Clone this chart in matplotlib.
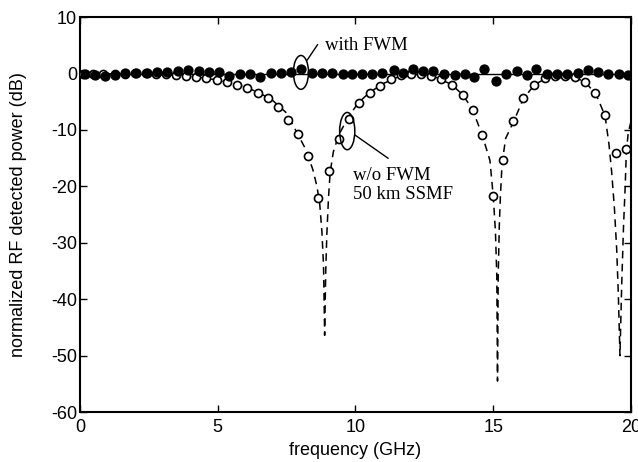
"""
RF power fading vs. frequency over 50 km SSMF, with and without FWM.
Filled dots: with FWM, open circles: w/o FWM, dashed: fading curve.
"""

import matplotlib
matplotlib.use('Agg')
import matplotlib.pyplot as plt
from matplotlib.patches import Ellipse

plt.rcParams['axes.unicode_minus'] = False


# ============ DATA ============
# with FWM (filled dots)
fwm_f = [0.17, 0.54, 0.91, 1.27, 1.63, 2.03, 2.42, 2.78, 3.17, 3.55, 3.93,
         4.32, 4.69, 5.06, 5.42, 5.81, 6.17, 6.53, 6.92, 7.29, 7.65, 8.01,
         8.41, 8.79, 9.15, 9.54, 9.88, 10.22, 10.61, 10.98, 11.40, 11.73,
         12.10, 12.46, 12.83, 13.23, 13.60, 13.97, 14.31, 14.67, 15.10,
         15.45, 15.85, 16.21, 16.57, 16.94, 17.30, 17.66, 18.09, 18.45,
         18.79, 19.18, 19.55, 19.88]
fwm_db = [-0.1, -0.27, -0.44, -0.27, 0.03, 0.15, 0.15, 0.32, 0.32, 0.5, 0.62,
          0.5, 0.32, 0.32, -0.44, -0.09, -0.09, -0.68, 0.15, 0.15, 0.32, 0.8,
          0.15, 0.15, 0.03, -0.09, -0.09, -0.09, -0.09, 0.15, 0.7, 0.15,
          0.85, 0.5, 0.5, -0.09, -0.27, -0.09, -0.56, 0.74, -1.27,
          -0.09, 0.5, -0.27, 0.74, -0.09, -0.09, -0.09, 0.15, 0.62,
          0.32, -0.09, -0.09, -0.27]

# w/o FWM (open circles)
nofwm_f = [0.12, 0.48, 0.85, 1.27, 1.63, 2.00, 2.40, 2.76, 3.12, 3.48, 3.85,
           4.21, 4.57, 4.96, 5.32, 5.71, 6.07, 6.45, 6.81, 7.17, 7.56, 7.90,
           8.29, 8.65, 9.05, 9.41, 9.77, 10.13, 10.53, 10.89, 11.29, 11.65,
           12.01, 12.38, 12.74, 13.12, 13.49, 13.89, 14.25, 14.61, 15.00,
           15.37, 15.73, 16.09, 16.48, 16.88, 17.24, 17.60, 17.97, 18.33,
           18.69, 19.06, 19.46, 19.82]
nofwm_db = [-0.1, -0.1, -0.1, -0.05, 0.0, 0.05, 0.05, 0.0, -0.1, -0.2, -0.45,
            -0.6, -0.85, -1.15, -1.45, -2.0, -2.6, -3.4, -4.4, -6.0, -8.2, -10.7,
            -14.6, -22.0, -17.2, -11.6, -8.0, -5.2, -3.5, -2.2, -1.0, -0.3,
            0.0, -0.15, -0.4, -1.0, -2.0, -3.8, -6.4, -10.9, -21.7,
            -15.4, -8.4, -4.4, -2.0, -0.8, -0.45, -0.45, -0.68, -1.5,
            -3.5, -7.4, -14.0, -13.3]

# fading curve (dashed)
curve_f = [0.0, 1.0, 2.0, 3.0, 3.5, 4.0, 4.5, 5.0, 5.5, 6.0, 6.5, 7.0, 7.5,
           7.9, 8.2, 8.45, 8.6, 8.7, 8.78, 8.84, 8.88, 8.92, 8.96, 9.02, 9.08,
           9.2, 9.4, 9.6, 9.8, 10.1, 10.5, 11.0, 11.5, 12.0, 12.5, 13.0, 13.5,
           13.9, 14.25, 14.6, 14.88, 15.0, 15.08, 15.13, 15.155, 15.18, 15.22,
           15.26, 15.32, 15.45, 15.75, 16.1, 16.5, 17.0, 17.5, 18.0, 18.4,
           18.75, 19.06, 19.2, 19.3, 19.4, 19.48, 19.54, 19.6, 19.66, 19.73,
           19.79, 19.83, 19.9, 20.0]
curve_db = [0.0, -0.05, -0.1, -0.2, -0.3, -0.5, -0.8, -1.15, -1.7, -2.4, -3.4,
            -4.8, -7.0, -10.7, -13.5, -17.0, -20.0, -23.0, -28.0, -34.0, -46.4,
            -35.0, -28.5, -22.0, -17.5, -13.8, -10.8, -9.0, -7.3, -5.2, -3.4,
            -1.8, -0.7, -0.1, -0.15, -0.8, -2.0, -3.8, -6.4, -10.9, -15.4,
            -21.7, -28.0, -36.0, -54.5, -36.0, -27.0, -21.7, -16.0, -11.5,
            -8.4, -4.4, -2.0, -0.6, -0.35, -0.7, -1.8, -3.9, -7.5, -12.5,
            -17.5, -24.0, -31.0, -39.0, -50.0, -38.0, -27.0, -20.0, -14.0,
            -10.5, -8.5]

XTICKS = [0, 5, 10, 15, 20]
YTICKS = [-60, -50, -40, -30, -20, -10, 0, 10]


# ============ PLOT ============
fig = plt.figure(figsize=(6.38, 4.62), dpi=100)
ax = fig.add_axes([0.1254, 0.108, 0.8636, 0.855])

serif = ['Liberation Serif', 'DejaVu Serif']
sans = ['Liberation Sans', 'DejaVu Sans']

ax.plot([0, 20], [0, 0], color='black', linewidth=1.0, zorder=2)
ax.plot(curve_f, curve_db, color='black', linewidth=1.1,
        linestyle=(0, (5, 3.5)), zorder=2)
ax.plot(nofwm_f, nofwm_db, linestyle='none', marker='o', markersize=5.8,
        markerfacecolor='white', markeredgecolor='black',
        markeredgewidth=1.2, zorder=3)
ax.plot(fwm_f, fwm_db, linestyle='none', marker='o', markersize=6.4,
        markerfacecolor='black', markeredgecolor='black', zorder=4)

# annotation ellipses and leader lines
ax.add_patch(Ellipse((8.02, 0.2), width=0.55, height=6.0, fill=False,
                     edgecolor='black', linewidth=1.1, zorder=5))
ax.plot([8.25, 8.62], [2.4, 5.1], color='black', linewidth=1.0)
ax.text(8.9, 4.9, 'with FWM', family=serif, fontsize=13.5,
        va='center', ha='left')

ax.add_patch(Ellipse((9.7, -10.2), width=0.55, height=6.6,
                     fill=False, edgecolor='black', linewidth=1.1, zorder=5))
ax.plot([9.98, 11.18], [-10.9, -15.0], color='black', linewidth=1.0)
ax.text(9.9, -16.6, 'w/o FWM\n50 km SSMF', family=serif, fontsize=13.5,
        va='top', ha='left', linespacing=1.15)

ax.set_xlim(0, 20)
ax.set_ylim(-60, 10)
ax.set_xticks(XTICKS)
ax.set_yticks(YTICKS)
ax.tick_params(direction='in', top=True, right=True, length=5, width=1.0,
               labelsize=13)
ax.tick_params(axis='x', pad=5)
ax.tick_params(axis='y', pad=2)
for lab in ax.get_xticklabels() + ax.get_yticklabels():
    lab.set_family(sans)
for sp in ax.spines.values():
    sp.set_linewidth(1.5)

ax.set_xlabel('frequency (GHz)', family=sans, fontsize=13, labelpad=4)
ax.set_ylabel('normalized RF detected power (dB)', family=sans, fontsize=13,
              labelpad=17)

fig.savefig('out.png', dpi=100)
